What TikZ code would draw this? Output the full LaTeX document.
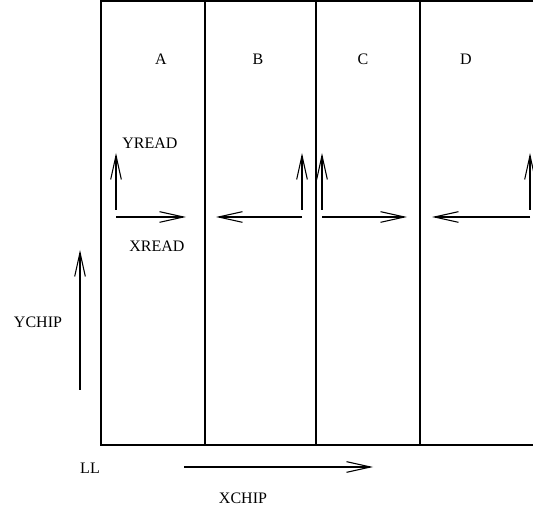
\documentclass[tikz,border=0pt]{standalone}
\usepackage{fontspec}
\setmainfont{Liberation Serif}
\usetikzlibrary{arrows.meta}
\newcommand{\chipbot}{63}
\newcommand{\chiptop}{507}
\newcommand{\colline}[2]{\draw[frame] (#2,\chipbot) coordinate (#1b) -- (#2,\chiptop) coordinate (#1t);}
\newcommand{\rdaxes}[3]{\coordinate (#1v) at (#2,298); \coordinate (#1y) at (#2,355);
	\coordinate (#1o) at (#2,291); \coordinate (#1x) at (#3,291);
	\draw[axis] (#1v) -- (#1y); \draw[axis] (#1o) -- (#1x);}

\begin{document}
\begin{tikzpicture}[x=0.75pt,y=0.75pt,
	frame/.style={line width=0.8pt},
	axis/.style={line width=0.8pt,-{Straight Barb[length=18pt,width=8pt]}},
	lbl/.style={font=\fontsize{12}{14}\selectfont,inner sep=0pt}]

		\useasboundingbox (0,0) rectangle (533,508);
		\coordinate (O) at (101,\chipbot);

    \draw[frame] (533,\chiptop) -- (101,\chiptop) -- (O) -- (533,\chipbot);
    \colline{c1}{205}
    \colline{c2}{316}
    \colline{c3}{420}

    \node[lbl] (A) at (161,449) {A};
    \node[lbl] (B) at (258,449) {B};
    \node[lbl] (C) at (363,449) {C};
    \node[lbl] (D) at (466,449) {D};

    \rdaxes{a}{116}{186}
    \rdaxes{b}{302}{216}
    \rdaxes{c}{322}{407}
    \rdaxes{d}{530}{432}
    \node[lbl] (yread) at (150,365) {YREAD};
    \node[lbl] (xread) at (157,262) {XREAD};

    \coordinate (yc0) at (80,118);
    \coordinate (yc1) at (80,258);
    \draw[axis] (yc0) -- (yc1);
    \node[lbl] (ychip) at (38,186) {YCHIP};

    \node[lbl] (LL) at (90,40) {LL};
    \coordinate (xc0) at (184,41);
    \coordinate (xc1) at (373,41);
    \draw[axis] (xc0) -- (xc1);
    \node[lbl] (xchip) at (243,10) {XCHIP};
    \end{tikzpicture}
\end{document}
